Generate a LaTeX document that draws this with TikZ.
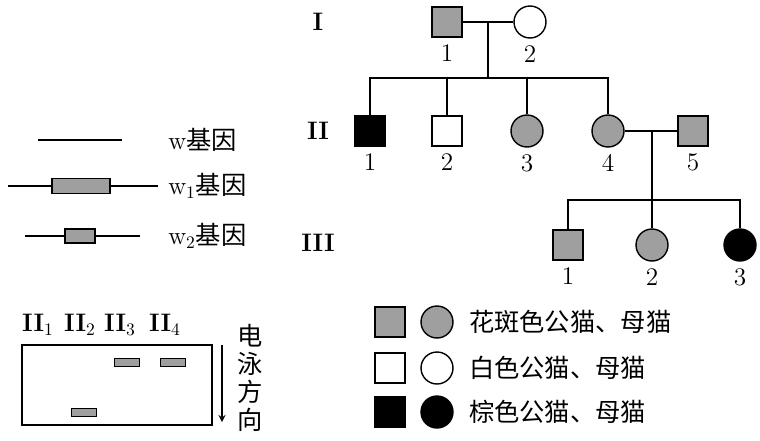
\documentclass[tikz,border=0pt]{standalone}
\usepackage{fontspec}
\newfontfamily\cjk{Noto Sans CJK SC}
\usetikzlibrary{positioning}
\begin{document}
\begin{tikzpicture}[
    x=0.02cm, y=-0.02cm,
    male/.style={rectangle, draw, thick, minimum size=0.6cm, inner sep=0pt},
    female/.style={circle, draw, thick, minimum size=0.64cm, inner sep=0pt},
    spot/.style={fill=gray!75},
    brown/.style={fill=black},
    num/.style={font=\Large},
    gen/.style={font=\Large\bfseries},
    band/.style={rectangle, draw, fill=gray!75, minimum width=0.5cm, minimum height=0.16cm, inner sep=0pt},
    line/.style={thick},
    txt/.style={font=\Large\cjk, anchor=west, inner sep=0pt}
]
    \useasboundingbox (0,0) rectangle (760,440);
    % Generations
    \node[gen] (g1) at (318,22) {I};
    \node[gen] (g2) at (318,131) {II};
    \node[gen] (g3) at (318,243) {III};

    % Generation I
    \node[male, spot] (i1) at (447,22) {};
    \node[female] (i2) at (530,22) {};
    \node[num, below=0.02cm of i1] {1};
    \node[num, below=0.02cm of i2] {2};
    \draw[line] (i1) -- (i2);
    \coordinate (m1) at (488,22);
    \coordinate (s1) at (488,78);
    \draw[line] (m1) -- (s1);

    % Generation II
    \node[male, brown] (ii1) at (370,131) {};
    \node[male] (ii2) at (447,131) {};
    \node[female, spot] (ii3) at (527,131) {};
    \node[female, spot] (ii4) at (608,131) {};
    \node[male, spot] (ii5) at (693,131) {};
    \foreach \n/\t in {ii1/1,ii2/2,ii3/3,ii4/4,ii5/5}
        \node[num, below=0.02cm of \n] {\t};
    \draw[line] (ii1.north) |- (s1) -| (ii4.north);
    \draw[line] (ii2.north) -- (ii2.north |- s1);
    \draw[line] (ii3.north) -- (ii3.north |- s1);
    \draw[line] (ii4) -- (ii5);
    \coordinate (m2) at (652,131);
    \coordinate (s2) at (652,200);
    \draw[line] (m2) -- (s2);

    % Generation III
    \node[male, spot] (iii1) at (568,245) {};
    \node[female, spot] (iii2) at (652,245) {};
    \node[female, brown] (iii3) at (740,245) {};
    \foreach \n/\t in {iii1/1,iii2/2,iii3/3}
        \node[num, below=0.02cm of \n] {\t};
    \draw[line] (iii1.north) |- (s2) -| (iii3.north);
    \draw[line] (iii2.north) -- (s2);

    % Gene legend
    \coordinate (wa) at (38,140);
    \coordinate (wb) at (122,140);
    \draw[line] (wa) -- (wb);
    \node[txt] (wt) at (168,140) {{\rmfamily w}基因};
    \node[rectangle, draw, thick, fill=gray!75, minimum width=1.16cm, minimum height=0.3cm, inner sep=0pt] (w1) at (81,186) {};
    \coordinate (w1a) at (8,186);
    \coordinate (w1b) at (158,186);
    \draw[line] (w1a) -- (w1) -- (w1b);
    \node[txt] (w1t) at (168,186) {{\rmfamily w\textsubscript{1}}基因};
    \node[rectangle, draw, thick, fill=gray!75, minimum width=0.6cm, minimum height=0.28cm, inner sep=0pt] (w2) at (80,236) {};
    \coordinate (w2a) at (25,236);
    \coordinate (w2b) at (140,236);
    \draw[line] (w2a) -- (w2) -- (w2b);
    \node[txt] (w2t) at (168,236) {{\rmfamily w\textsubscript{2}}基因};

    % Electrophoresis
    \draw[line] (22,345) rectangle (212,425);
    \foreach \x/\t in {38/1,80/2,120/3,165/4}
        \node[font=\Large\bfseries] at (\x,325) {II\textsubscript{\normalfont\t}};
    \node[band] (b3) at (127,362) {};
    \node[band] (b4) at (173,362) {};
    \node[band] (b2) at (84,412) {};
    \coordinate (ea) at (222,345);
    \coordinate (eb) at (222,422);
    \draw[thick, ->, >=stealth] (ea) -- (eb);
    \node[font=\Large\cjk, align=center, inner sep=0pt] (dir) at (250,378) {电\\[-2pt]泳\\[-2pt]方\\[-2pt]向};

    % Phenotype legend
    \node[male, spot] (l1m) at (390,322) {};
    \node[female, spot] (l1f) at (437,322) {};
    \node[txt, right=0.3cm of l1f] {花斑色公猫、母猫};
    \node[male] (l2m) at (390,368) {};
    \node[female] (l2f) at (437,368) {};
    \node[txt, right=0.3cm of l2f] {白色公猫、母猫};
    \node[male, brown] (l3m) at (390,412) {};
    \node[female, brown] (l3f) at (437,412) {};
    \node[txt, right=0.3cm of l3f] {棕色公猫、母猫};
\end{tikzpicture}
\end{document}
